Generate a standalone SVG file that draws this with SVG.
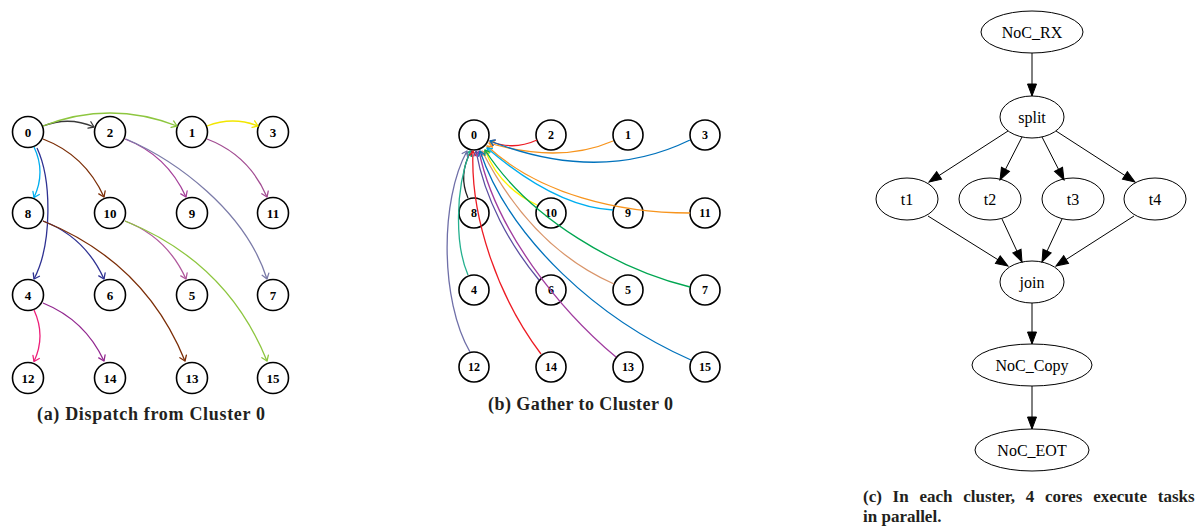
<svg xmlns="http://www.w3.org/2000/svg" width="1200" height="527" viewBox="0 0 1200 527">
<style>
.nd circle{fill:#fff;stroke:#000;stroke-width:1.6}
.nd text{font-family:"Liberation Serif","Times New Roman",serif;font-weight:bold;font-size:13px;text-anchor:middle}
.ndb circle{fill:none;stroke:#000;stroke-width:1.6}
.ndb text{font-family:"Liberation Serif","Times New Roman",serif;font-weight:bold;font-size:12px;text-anchor:middle}
.el ellipse{fill:#fff;stroke:#000;stroke-width:1}
.el text{font-family:"Liberation Serif","Times New Roman",serif;font-size:16px;text-anchor:middle}
.e{fill:none;stroke-width:1.3}
.g{fill:none;stroke:#000;stroke-width:1}
.cap{font-family:"Liberation Serif","Times New Roman",serif;font-weight:bold;font-size:18px;fill:#231f20}
.cap2{font-family:"Liberation Serif","Times New Roman",serif;font-weight:bold;font-size:17px;fill:#231f20}
.ah{fill:none;stroke-width:1.3;stroke-linecap:round;stroke-linejoin:round}
</style>
<defs>
<marker id="m_dk" viewBox="-7 -5 8 10" markerWidth="8" markerHeight="10" refX="0" refY="0" orient="auto" markerUnits="userSpaceOnUse"><path class="ah" d="M-5,-3.5 L0,0 L-5,3.5" stroke="#3a3a3a"/></marker>
<marker id="m_gr" viewBox="-7 -5 8 10" markerWidth="8" markerHeight="10" refX="0" refY="0" orient="auto" markerUnits="userSpaceOnUse"><path class="ah" d="M-5,-3.5 L0,0 L-5,3.5" stroke="#8dc63f"/></marker>
<marker id="m_ye" viewBox="-7 -5 8 10" markerWidth="8" markerHeight="10" refX="0" refY="0" orient="auto" markerUnits="userSpaceOnUse"><path class="ah" d="M-5,-3.5 L0,0 L-5,3.5" stroke="#f2e600"/></marker>
<marker id="m_cy" viewBox="-7 -5 8 10" markerWidth="8" markerHeight="10" refX="0" refY="0" orient="auto" markerUnits="userSpaceOnUse"><path class="ah" d="M-5,-3.5 L0,0 L-5,3.5" stroke="#00aeef"/></marker>
<marker id="m_nv" viewBox="-7 -5 8 10" markerWidth="8" markerHeight="10" refX="0" refY="0" orient="auto" markerUnits="userSpaceOnUse"><path class="ah" d="M-5,-3.5 L0,0 L-5,3.5" stroke="#2e3192"/></marker>
<marker id="m_br" viewBox="-7 -5 8 10" markerWidth="8" markerHeight="10" refX="0" refY="0" orient="auto" markerUnits="userSpaceOnUse"><path class="ah" d="M-5,-3.5 L0,0 L-5,3.5" stroke="#7b2d06"/></marker>
<marker id="m_p1" viewBox="-7 -5 8 10" markerWidth="8" markerHeight="10" refX="0" refY="0" orient="auto" markerUnits="userSpaceOnUse"><path class="ah" d="M-5,-3.5 L0,0 L-5,3.5" stroke="#a5409a"/></marker>
<marker id="m_p2" viewBox="-7 -5 8 10" markerWidth="8" markerHeight="10" refX="0" refY="0" orient="auto" markerUnits="userSpaceOnUse"><path class="ah" d="M-5,-3.5 L0,0 L-5,3.5" stroke="#a24d92"/></marker>
<marker id="m_p3" viewBox="-7 -5 8 10" markerWidth="8" markerHeight="10" refX="0" refY="0" orient="auto" markerUnits="userSpaceOnUse"><path class="ah" d="M-5,-3.5 L0,0 L-5,3.5" stroke="#b0589c"/></marker>
<marker id="m_p4" viewBox="-7 -5 8 10" markerWidth="8" markerHeight="10" refX="0" refY="0" orient="auto" markerUnits="userSpaceOnUse"><path class="ah" d="M-5,-3.5 L0,0 L-5,3.5" stroke="#92278f"/></marker>
<marker id="m_gb" viewBox="-7 -5 8 10" markerWidth="8" markerHeight="10" refX="0" refY="0" orient="auto" markerUnits="userSpaceOnUse"><path class="ah" d="M-5,-3.5 L0,0 L-5,3.5" stroke="#7b7ba8"/></marker>
<marker id="m_pk" viewBox="-7 -5 8 10" markerWidth="8" markerHeight="10" refX="0" refY="0" orient="auto" markerUnits="userSpaceOnUse"><path class="ah" d="M-5,-3.5 L0,0 L-5,3.5" stroke="#ed1e79"/></marker>
<marker id="n_rd" viewBox="-7 -5 8 10" markerWidth="8" markerHeight="10" refX="0" refY="0" orient="auto" markerUnits="userSpaceOnUse"><path class="ah" d="M-4.5,-3 L0,0 L-4.5,3" stroke="#ed1c24"/></marker>
<marker id="n_or" viewBox="-7 -5 8 10" markerWidth="8" markerHeight="10" refX="0" refY="0" orient="auto" markerUnits="userSpaceOnUse"><path class="ah" d="M-4.5,-3 L0,0 L-4.5,3" stroke="#f7941d"/></marker>
<marker id="n_bl" viewBox="-7 -5 8 10" markerWidth="8" markerHeight="10" refX="0" refY="0" orient="auto" markerUnits="userSpaceOnUse"><path class="ah" d="M-4.5,-3 L0,0 L-4.5,3" stroke="#0072bc"/></marker>
<marker id="n_bk" viewBox="-7 -5 8 10" markerWidth="8" markerHeight="10" refX="0" refY="0" orient="auto" markerUnits="userSpaceOnUse"><path class="ah" d="M-4.5,-3 L0,0 L-4.5,3" stroke="#231f20"/></marker>
<marker id="n_ye" viewBox="-7 -5 8 10" markerWidth="8" markerHeight="10" refX="0" refY="0" orient="auto" markerUnits="userSpaceOnUse"><path class="ah" d="M-4.5,-3 L0,0 L-4.5,3" stroke="#fff200"/></marker>
<marker id="n_cy" viewBox="-7 -5 8 10" markerWidth="8" markerHeight="10" refX="0" refY="0" orient="auto" markerUnits="userSpaceOnUse"><path class="ah" d="M-4.5,-3 L0,0 L-4.5,3" stroke="#00aeef"/></marker>
<marker id="n_tl" viewBox="-7 -5 8 10" markerWidth="8" markerHeight="10" refX="0" refY="0" orient="auto" markerUnits="userSpaceOnUse"><path class="ah" d="M-4.5,-3 L0,0 L-4.5,3" stroke="#25b08f"/></marker>
<marker id="n_gp" viewBox="-7 -5 8 10" markerWidth="8" markerHeight="10" refX="0" refY="0" orient="auto" markerUnits="userSpaceOnUse"><path class="ah" d="M-4.5,-3 L0,0 L-4.5,3" stroke="#6f6fa8"/></marker>
<marker id="n_vi" viewBox="-7 -5 8 10" markerWidth="8" markerHeight="10" refX="0" refY="0" orient="auto" markerUnits="userSpaceOnUse"><path class="ah" d="M-4.5,-3 L0,0 L-4.5,3" stroke="#5b4ea1"/></marker>
<marker id="n_pu" viewBox="-7 -5 8 10" markerWidth="8" markerHeight="10" refX="0" refY="0" orient="auto" markerUnits="userSpaceOnUse"><path class="ah" d="M-4.5,-3 L0,0 L-4.5,3" stroke="#a03c9f"/></marker>
<marker id="n_tn" viewBox="-7 -5 8 10" markerWidth="8" markerHeight="10" refX="0" refY="0" orient="auto" markerUnits="userSpaceOnUse"><path class="ah" d="M-4.5,-3 L0,0 L-4.5,3" stroke="#d9956a"/></marker>
<marker id="n_gn" viewBox="-7 -5 8 10" markerWidth="8" markerHeight="10" refX="0" refY="0" orient="auto" markerUnits="userSpaceOnUse"><path class="ah" d="M-4.5,-3 L0,0 L-4.5,3" stroke="#00a651"/></marker>
<marker id="gv" viewBox="-13 -6 14 12" markerWidth="14" markerHeight="12" refX="0" refY="0" orient="auto" markerUnits="userSpaceOnUse"><path d="M0,0 L-12,-4.5 L-12,4.5 Z" fill="#000" stroke="#000" stroke-width="1"/></marker>
</defs>

<!-- Panel (a) nodes -->
<g id="panel-a-nodes">
<g id="a0" class="nd"><circle cx="28" cy="132" r="15.5"/><text x="28" y="136.5">0</text></g>
<g id="a2" class="nd"><circle cx="110" cy="132" r="15.5"/><text x="110" y="136.5">2</text></g>
<g id="a1" class="nd"><circle cx="192" cy="132" r="15.5"/><text x="192" y="136.5">1</text></g>
<g id="a3" class="nd"><circle cx="273" cy="132" r="15.5"/><text x="273" y="136.5">3</text></g>
<g id="a8" class="nd"><circle cx="28" cy="213" r="15.5"/><text x="28" y="217.5">8</text></g>
<g id="a10" class="nd"><circle cx="110" cy="213" r="15.5"/><text x="110" y="217.5">10</text></g>
<g id="a9" class="nd"><circle cx="192" cy="213" r="15.5"/><text x="192" y="217.5">9</text></g>
<g id="a11" class="nd"><circle cx="273" cy="213" r="15.5"/><text x="273" y="217.5">11</text></g>
<g id="a4" class="nd"><circle cx="28" cy="295" r="15.5"/><text x="28" y="299.5">4</text></g>
<g id="a6" class="nd"><circle cx="110" cy="295" r="15.5"/><text x="110" y="299.5">6</text></g>
<g id="a5" class="nd"><circle cx="192" cy="295" r="15.5"/><text x="192" y="299.5">5</text></g>
<g id="a7" class="nd"><circle cx="273" cy="295" r="15.5"/><text x="273" y="299.5">7</text></g>
<g id="a12" class="nd"><circle cx="28" cy="378" r="15.5"/><text x="28" y="382.5">12</text></g>
<g id="a14" class="nd"><circle cx="110" cy="378" r="15.5"/><text x="110" y="382.5">14</text></g>
<g id="a13" class="nd"><circle cx="192" cy="378" r="15.5"/><text x="192" y="382.5">13</text></g>
<g id="a15" class="nd"><circle cx="273" cy="378" r="15.5"/><text x="273" y="382.5">15</text></g>
</g>

<!-- Panel (a) connectors -->
<g id="panel-a-connectors">
<path class="e" stroke="#3a3a3a" marker-end="url(#m_dk)" d="M43,126 Q69,116 94,127"/>
<path class="e" stroke="#8dc63f" marker-end="url(#m_gr)" d="M43,126 Q110,100 177,126"/>
<path class="e" stroke="#f2e600" marker-end="url(#m_ye)" d="M207,126 Q233,116 258,126"/>
<path class="e" stroke="#00aeef" marker-end="url(#m_cy)" d="M34,147 Q46,172 34,197.5"/>
<path class="e" stroke="#2e3192" marker-end="url(#m_nv)" d="M37,148 C52,180 52,245 34,279"/>
<path class="e" stroke="#7b2d06" marker-end="url(#m_br)" d="M43,139 Q85,155 104,197"/>
<path class="e" stroke="#a5409a" marker-end="url(#m_p1)" d="M125,139 Q167,155 186,197"/>
<path class="e" stroke="#a24d92" marker-end="url(#m_p2)" d="M207,139 Q249,155 267,197"/>
<path class="e" stroke="#7b7ba8" marker-end="url(#m_gb)" d="M126,139 C175,160 245,210 267,279"/>
<path class="e" stroke="#2e3192" marker-end="url(#m_nv)" d="M43,221 Q85,237 104,279"/>
<path class="e" stroke="#7b2d06" marker-end="url(#m_br)" d="M43,221 Q145,262 185,361"/>
<path class="e" stroke="#b0589c" marker-end="url(#m_p3)" d="M125,221 Q167,237 186,279"/>
<path class="e" stroke="#8dc63f" marker-end="url(#m_gr)" d="M125,221 Q227,262 267,361"/>
<path class="e" stroke="#ed1e79" marker-end="url(#m_pk)" d="M34,310 Q46,336 34,361.5"/>
<path class="e" stroke="#92278f" marker-end="url(#m_p4)" d="M43,303 Q85,320 104,361"/>
</g>
<text class="cap" x="37" y="420" textLength="228" lengthAdjust="spacing">(a) Dispatch from Cluster 0</text>

<!-- Panel (b) nodes -->
<g id="panel-b-nodes">
<g id="b0" class="ndb"><circle cx="474" cy="135" r="15"/><text x="474" y="139">0</text></g>
<g id="b2" class="ndb"><circle cx="551" cy="135" r="15"/><text x="551" y="139">2</text></g>
<g id="b1" class="ndb"><circle cx="628" cy="135" r="15"/><text x="628" y="139">1</text></g>
<g id="b3" class="ndb"><circle cx="705" cy="135" r="15"/><text x="705" y="139">3</text></g>
<g id="b8" class="ndb"><circle cx="474" cy="213" r="15"/><text x="474" y="217">8</text></g>
<g id="b10" class="ndb"><circle cx="551" cy="213" r="15"/><text x="551" y="217">10</text></g>
<g id="b9" class="ndb"><circle cx="628" cy="213" r="15"/><text x="628" y="217">9</text></g>
<g id="b11" class="ndb"><circle cx="705" cy="213" r="15"/><text x="705" y="217">11</text></g>
<g id="b4" class="ndb"><circle cx="474" cy="290" r="15"/><text x="474" y="294">4</text></g>
<g id="b6" class="ndb"><circle cx="551" cy="290" r="15"/><text x="551" y="294">6</text></g>
<g id="b5" class="ndb"><circle cx="628" cy="290" r="15"/><text x="628" y="294">5</text></g>
<g id="b7" class="ndb"><circle cx="705" cy="290" r="15"/><text x="705" y="294">7</text></g>
<g id="b12" class="ndb"><circle cx="474" cy="367" r="15"/><text x="474" y="371">12</text></g>
<g id="b14" class="ndb"><circle cx="551" cy="367" r="15"/><text x="551" y="371">14</text></g>
<g id="b13" class="ndb"><circle cx="628" cy="367" r="15"/><text x="628" y="371">13</text></g>
<g id="b15" class="ndb"><circle cx="705" cy="367" r="15"/><text x="705" y="371">15</text></g>
</g>

<!-- Panel (b) connectors -->
<g id="panel-b-connectors">
<path class="e" stroke="#ed1c24" marker-end="url(#n_rd)" d="M537,140 Q513,151 490,141"/>
<path class="e" stroke="#f7941d" marker-end="url(#n_or)" d="M613,141 Q560,164 489,143"/>
<path class="e" stroke="#0072bc" marker-end="url(#n_bl)" d="M690,140 Q600,184 490,141"/>
<path class="e" stroke="#f7941d" marker-end="url(#n_or)" d="M690,213 C620,213 540,195 487,146"/>
<path class="e" stroke="#00aeef" marker-end="url(#n_cy)" d="M613,210 Q556,207 487,148"/>
<path class="e" stroke="#fff200" marker-end="url(#n_ye)" d="M537,205 Q499,187 485,150"/>
<path class="e" stroke="#231f20" marker-end="url(#n_bk)" d="M468,198 Q458,175 471,151"/>
<path class="e" stroke="#25b08f" marker-end="url(#n_tl)" d="M468,275 C455,245 455,190 470,151"/>
<path class="e" stroke="#6f6fa8" marker-end="url(#n_gp)" d="M470,352 C440,300 440,200 467,151"/>
<path class="e" stroke="#ed1c24" marker-end="url(#n_rd)" d="M541,354 C500,300 470,220 473,151"/>
<path class="e" stroke="#5b4ea1" marker-end="url(#n_vi)" d="M539,280 C510,245 485,200 476,151"/>
<path class="e" stroke="#a03c9f" marker-end="url(#n_pu)" d="M616,357 C560,310 495,230 479,151"/>
<path class="e" stroke="#d9956a" marker-end="url(#n_tn)" d="M614,284 Q532,248 482,151"/>
<path class="e" stroke="#00a651" marker-end="url(#n_gn)" d="M690,287 C620,270 530,220 485,150"/>
<path class="e" stroke="#0072bc" marker-end="url(#n_bl)" d="M691,360 C600,320 510,240 480,151"/>
</g>
<text class="cap" x="488" y="410" textLength="185" lengthAdjust="spacing">(b) Gather to Cluster 0</text>

<!-- Panel (c) nodes -->
<g id="panel-c-nodes">
<g id="c_noc_rx" class="el"><ellipse cx="1032" cy="32" rx="51" ry="21"/><text x="1032" y="37.5">NoC_RX</text></g>
<g id="c_split" class="el"><ellipse cx="1032" cy="117" rx="32" ry="21"/><text x="1032" y="122.5">split</text></g>
<g id="c_t1" class="el"><ellipse cx="907" cy="199" rx="31" ry="21"/><text x="907" y="204.5">t1</text></g>
<g id="c_t2" class="el"><ellipse cx="990" cy="199" rx="31" ry="21"/><text x="990" y="204.5">t2</text></g>
<g id="c_t3" class="el"><ellipse cx="1073" cy="199" rx="31" ry="21"/><text x="1073" y="204.5">t3</text></g>
<g id="c_t4" class="el"><ellipse cx="1155" cy="199" rx="31" ry="21"/><text x="1155" y="204.5">t4</text></g>
<g id="c_join" class="el"><ellipse cx="1032" cy="282" rx="32" ry="21"/><text x="1032" y="287.5">join</text></g>
<g id="c_noc_copy" class="el"><ellipse cx="1032" cy="365" rx="60" ry="21"/><text x="1032" y="370.5">NoC_Copy</text></g>
<g id="c_noc_eot" class="el"><ellipse cx="1032" cy="450" rx="57" ry="21"/><text x="1032" y="455.5">NoC_EOT</text></g>
</g>

<!-- Panel (c) connectors -->
<g id="panel-c-connectors">
<path class="g" marker-end="url(#gv)" d="M1032,53 L1032,96"/>
<path class="g" marker-end="url(#gv)" d="M1008,131 L929,182"/>
<path class="g" marker-end="url(#gv)" d="M1022,137 L1000,180"/>
<path class="g" marker-end="url(#gv)" d="M1042,137 L1064,180"/>
<path class="g" marker-end="url(#gv)" d="M1056,131 L1135,182"/>
<path class="g" marker-end="url(#gv)" d="M928,216 L1008,266"/>
<path class="g" marker-end="url(#gv)" d="M1002,219 L1022,262"/>
<path class="g" marker-end="url(#gv)" d="M1062,219 L1042,262"/>
<path class="g" marker-end="url(#gv)" d="M1134,216 L1056,266"/>
<path class="g" marker-end="url(#gv)" d="M1032,303 L1032,344"/>
<path class="g" marker-end="url(#gv)" d="M1032,386 L1032,429"/>
</g>
<text class="cap2" x="863" y="502" word-spacing="6.5">(c) In each cluster, 4 cores execute tasks</text>
<text class="cap2" x="863" y="522">in parallel.</text>
</svg>
